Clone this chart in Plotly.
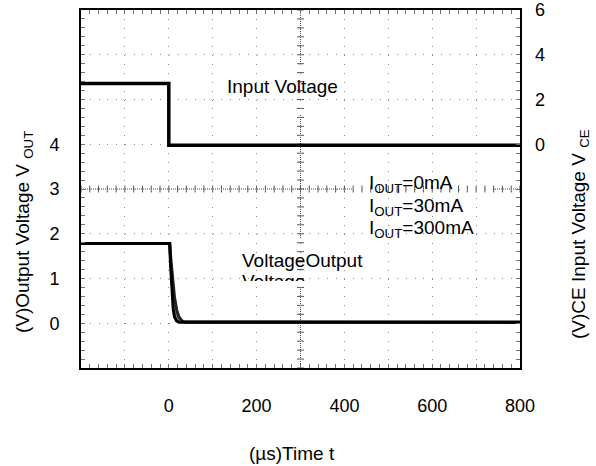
import plotly.graph_objects as go

# ---------------- data ----------------
# Input voltage V_CE (right axis, V) vs time (us)
t_input = [-200, 0, 0, 800]
v_input = [2.72, 2.72, -0.04, -0.04]

# Output voltage V_OUT (left axis, V) vs time (us), three load currents
t_out_0mA = [-200, 2, 4, 6, 8, 10, 13, 18, 24, 800]
v_out_0mA = [1.78, 1.78, 1.30, 0.88, 0.55, 0.32, 0.14, 0.05, 0.02, 0.02]
t_out_30mA = [-200, 2, 4, 7, 10, 14, 18, 24, 30, 800]
v_out_30mA = [1.78, 1.78, 1.42, 1.00, 0.62, 0.32, 0.16, 0.06, 0.03, 0.02]
t_out_300mA = [-200, 2, 5, 9, 13, 18, 23, 30, 36, 800]
v_out_300mA = [1.78, 1.78, 1.40, 0.92, 0.58, 0.30, 0.14, 0.05, 0.03, 0.02]

x_ticks = [0, 200, 400, 600, 800]
y_left_ticks = [0, 1, 2, 3, 4]
y_right_ticks = [0, 2, 4, 6]

# ---------------- layout geometry ----------------
WIDTH, HEIGHT = 596, 466
L, T, R, B = 81, 10, 520, 368
PW, PH = R - L, B - T
FONT = "Liberation Sans, Arial, sans-serif"


def px(xp):
    return (xp - L) / PW


def py(yp):
    return 1 - (yp - T) / PH


x_range = [-200, 800]
y_range = [-1, 7]
y2_range = [-10, 6]

x_grid = list(range(-200, 801, 100))
x_text = [str(v) if v in x_ticks else "" for v in x_grid]
y_grid = list(range(-1, 8))
y_text = [str(v) if v in y_left_ticks else "" for v in y_grid]
y2_grid = list(range(-10, 7, 2))
y2_text = [str(v) if v in y_right_ticks else "" for v in y2_grid]

fig = go.Figure()

fig.add_trace(go.Scatter(x=t_out_30mA, y=v_out_30mA, mode="lines",
                         line=dict(color="#8a8a8a", width=3), name="IOUT=30mA",
                         xaxis="x", yaxis="y"))
fig.add_trace(go.Scatter(x=t_out_300mA, y=v_out_300mA, mode="lines",
                         line=dict(color="#222222", width=3), name="IOUT=300mA",
                         xaxis="x", yaxis="y"))
fig.add_trace(go.Scatter(x=t_out_0mA, y=v_out_0mA, mode="lines",
                         line=dict(color="#000000", width=3), name="IOUT=0mA",
                         xaxis="x", yaxis="y"))
fig.add_trace(go.Scatter(x=t_input, y=v_input, mode="lines",
                         line=dict(color="#000000", width=3.5), name="Input Voltage",
                         xaxis="x2", yaxis="y2"))

tick_col = "#707070"
grid_col = "#8c8c8c"

fig.update_layout(
    width=WIDTH, height=HEIGHT,
    margin=dict(l=L, r=WIDTH - R, t=T, b=HEIGHT - B, pad=0, autoexpand=False),
    paper_bgcolor="white", plot_bgcolor="white",
    showlegend=False,
    font=dict(family=FONT, size=18, color="#000"),
    xaxis=dict(
        range=x_range, tickmode="array", tickvals=x_grid, ticktext=x_text,
        showgrid=True, gridcolor=grid_col, gridwidth=1, griddash="1px,7.95px",
        zeroline=False, showline=True, linecolor="black", linewidth=2, mirror=True,
        ticks="inside", ticklen=4, tickcolor=tick_col, tickwidth=1,
        minor=dict(ticks="inside", ticklen=4, tickcolor=tick_col, tickwidth=1,
                   dtick=20, tick0=-200, showgrid=False),
        ticklabelstandoff=20, tickfont=dict(size=18), automargin=False,
    ),
    xaxis2=dict(
        range=x_range, overlaying="x", side="top", anchor="y2",
        tickmode="array", tickvals=x_grid, showticklabels=False,
        showgrid=False, zeroline=False, showline=False,
        ticks="inside", ticklen=4, tickcolor=tick_col, tickwidth=1,
        minor=dict(ticks="inside", ticklen=4, tickcolor=tick_col, tickwidth=1,
                   dtick=20, tick0=-200, showgrid=False),
        automargin=False,
    ),
    yaxis=dict(
        range=y_range, tickmode="array", tickvals=y_grid, ticktext=y_text,
        showgrid=True, gridcolor=grid_col, gridwidth=1, griddash="1px,7.78px",
        zeroline=False, showline=True, linecolor="black", linewidth=2, mirror=True,
        ticks="inside", ticklen=4, tickcolor=tick_col, tickwidth=1,
        minor=dict(ticks="inside", ticklen=4, tickcolor=tick_col, tickwidth=1,
                   dtick=0.2, tick0=-1, showgrid=False),
        ticklabelstandoff=16, tickfont=dict(size=18), automargin=False,
    ),
    yaxis2=dict(
        range=y2_range, overlaying="y", side="right", anchor="x",
        tickmode="array", tickvals=y2_grid, ticktext=y2_text,
        showgrid=False, zeroline=False, showline=False,
        ticks="inside", ticklen=4, tickcolor=tick_col, tickwidth=1,
        minor=dict(ticks="inside", ticklen=4, tickcolor=tick_col, tickwidth=1,
                   dtick=0.4, tick0=-10, showgrid=False),
        ticklabelstandoff=14, tickfont=dict(size=18), automargin=False,
    ),
)

# ---------------- oscilloscope centre graticule ----------------
shapes = []
x_center = (x_range[0] + x_range[1]) / 2
y_center = (y_range[0] + y_range[1]) / 2
cl = dict(color="#4a4a4a", width=1, dash="1px,1px")
shapes.append(dict(type="line", xref="x", yref="paper", x0=x_center, x1=x_center,
                   y0=0, y1=1, line=cl, layer="below"))
shapes.append(dict(type="line", xref="paper", yref="y", x0=0, x1=1,
                   y0=y_center, y1=y_center, line=cl, layer="below"))
for xv in range(x_range[0], x_range[1] + 1, 20):
    shapes.append(dict(type="line", xref="x", yref="y", x0=xv, x1=xv,
                       ysizemode="pixel", yanchor=y_center, y0=-3.5, y1=3.5,
                       line=dict(color="#555", width=1), layer="below"))
for k in range(41):
    yv = y_range[0] + 0.2 * k
    shapes.append(dict(type="line", xref="x", yref="y", y0=yv, y1=yv,
                       xsizemode="pixel", xanchor=x_center, x0=-3.5, x1=3.5,
                       line=dict(color="#555", width=1), layer="below"))

# white text boxes covering the graticule
for (x0, x1, y0, y1) in [(207, 423, 65, 115), (223, 423, 238, 288), (353, 493, 158, 240)]:
    shapes.append(dict(type="rect", xref="paper", yref="paper",
                       x0=px(x0), x1=px(x1), y0=py(y1), y1=py(y0),
                       fillcolor="white", line=dict(width=0), layer="between"))
fig.update_layout(shapes=shapes)

# ---------------- text ----------------
ann_font = dict(family=FONT, size=19, color="#000")
anns = []


def text(s, xp, yp, xanchor="left", yanchor="middle", **kw):
    d = dict(text=s, xref="paper", yref="paper", x=px(xp), y=py(yp),
             xanchor=xanchor, yanchor=yanchor, showarrow=False, font=ann_font,
             borderpad=0, borderwidth=0, align="left")
    d.update(kw)
    anns.append(d)


text("Input Voltage", 226.5, 86)
text("VoltageOutput", 241.5, 260.5)
text("Voltage", 241.5, 271.3, yanchor="top", height=10, valign="top")
text("I<sub>OUT</sub>=0mA", 369, 184)
text("I<sub>OUT</sub>=30mA", 369, 206.5)
text("I<sub>OUT</sub>=300mA", 369, 229)
text("(µs)Time t", 292, 454, xanchor="center")
text("(V)Output Voltage V <sub>OUT</sub>", 24, 232, xanchor="center", textangle=-90)
text("(V)CE Input Voltage V <sub>CE</sub>", 580, 234, xanchor="center", textangle=-90)
fig.update_layout(annotations=anns)

fig.write_html("out.html", config={"displayModeBar": False},
               post_script="document.body.style.margin='0';")
